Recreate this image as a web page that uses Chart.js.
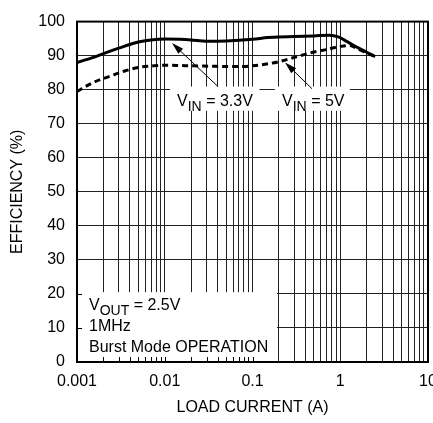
<!DOCTYPE html>
<html>
<head>
<meta charset="utf-8">
<script src="https://cdn.jsdelivr.net/npm/chart.js@4.4.1/dist/chart.umd.min.js"></script>
<style>
  html, body { margin: 0; padding: 0; background: #fff; }
</style>
</head>
<body>
<canvas id="eff" width="433" height="423"></canvas>
<script>
// efficiency vs load current
const current33 = [0.001, 0.0015, 0.002, 0.003, 0.005, 0.007, 0.01, 0.015, 0.02, 0.03, 0.05, 0.1, 0.15, 0.2, 0.3, 0.5, 0.75, 0.95, 1.2, 1.5, 2.0, 2.5];
const eff33 =     [88.0,  89.4,   90.6,  92.2,  94.0,  94.6,  94.9, 94.8,  94.6, 94.2, 94.3, 94.8, 95.3, 95.5, 95.6, 95.8, 96.0, 95.5, 94.1, 92.7, 91.0, 89.7];

const current5 = [0.001, 0.0015, 0.0024, 0.0035, 0.0052, 0.0075, 0.0096, 0.015, 0.02, 0.033, 0.05, 0.078, 0.1, 0.15, 0.205, 0.3, 0.455, 0.7, 0.92, 1.29, 1.6, 2.0, 2.5];
const eff5 =     [79.5,  82.0,   84.0,   85.5,   86.6,   87.0,   87.2,  87.1,  87.0, 86.9,  86.8, 86.8,  87.0, 87.6, 88.3,  89.5, 90.8,  91.8, 92.5, 93.0, 91.9, 90.8, 89.7];

const decades = [0.001, 0.01, 0.1, 1, 10];
const decadeLabels = ["0.001", "0.01", "0.1", "1", "10"];
const yTicks = [0, 10, 20, 30, 40, 50, 60, 70, 80, 90, 100];

const FONT = "'Liberation Sans', Arial, sans-serif";
const FS = 16;

// log grid: 1..9 in every decade
const gridValues = [];
decades.forEach((d, i) => {
  if (i === decades.length - 1) { gridValues.push(d); return; }
  for (let m = 1; m <= 9; m++) gridValues.push(+(d * m).toPrecision(3));
});

// white boxes that hide the grid behind the text (data coords)
const whiteBoxes = [
  { x0: 0.001, x1: 0.19, y0: 0, y1: 20.5, ticks: true },
  { x0: 0.0115, x1: 0.12, y0: 73.8, y1: 80.9 },
  { x0: 0.18, x1: 1.29, y0: 73.8, y1: 80.9 }
];

const arrows = [
  { from: [0.0405, 80.9], to: [0.0121, 93.7] },
  { from: [0.476, 80.3], to: [0.235, 88.0] }
];

const notes = [
  { x: 0.0138, y: 75.2, main: "V", sub: "IN", rest: " = 3.3V" },
  { x: 0.217, y: 75.2, main: "V", sub: "IN", rest: " = 5V" },
  { x: 0.00137, y: 15.4, main: "V", sub: "OUT", rest: " = 2.5V" },
  { x: 0.00137, y: 9.1, main: "1MHz" },
  { x: 0.00137, y: 2.85, main: "Burst Mode OPERATION" }
];

const annotations = {
  id: "annotations",
  beforeDatasetsDraw(chart) {
    const { ctx, chartArea: a, scales: { x, y } } = chart;
    ctx.save();
    ctx.fillStyle = "#fff";
    whiteBoxes.forEach(b => {
      const l = Math.max(x.getPixelForValue(b.x0), a.left + 1);
      const r = x.getPixelForValue(b.x1);
      const t = y.getPixelForValue(b.y1);
      const btm = Math.min(y.getPixelForValue(b.y0), a.bottom - 1);
      ctx.fillRect(l, t, r - l, btm - t);
      if (b.ticks) {
        ctx.strokeStyle = "#000";
        ctx.lineWidth = 1;
        ctx.beginPath();
        gridValues.forEach(v => {
          if (v <= b.x0 || v >= b.x1) return;
          const px = Math.round(x.getPixelForValue(v)) + 0.5;
          ctx.moveTo(px, a.bottom);
          ctx.lineTo(px, a.bottom - 5);
        });
        yTicks.forEach(v => {
          if (v <= b.y0 || v >= b.y1) return;
          const py = Math.round(y.getPixelForValue(v)) + 0.5;
          ctx.moveTo(a.left, py);
          ctx.lineTo(a.left + 5, py);
        });
        ctx.stroke();
      }
    });
    ctx.strokeStyle = "#000";
    ctx.lineWidth = 2;
    ctx.strokeRect(a.left, a.top, a.right - a.left, a.bottom - a.top);
    ctx.restore();
  },
  afterDatasetsDraw(chart) {
    const { ctx, scales: { x, y } } = chart;
    ctx.save();
    ctx.strokeStyle = "#000";
    ctx.fillStyle = "#000";
    ctx.lineWidth = 1;
    arrows.forEach(ar => {
      const x0 = x.getPixelForValue(ar.from[0]), y0 = y.getPixelForValue(ar.from[1]);
      const x1 = x.getPixelForValue(ar.to[0]), y1 = y.getPixelForValue(ar.to[1]);
      const ang = Math.atan2(y1 - y0, x1 - x0);
      ctx.beginPath();
      ctx.moveTo(x0, y0);
      ctx.lineTo(x1 - 8 * Math.cos(ang), y1 - 8 * Math.sin(ang));
      ctx.stroke();
      ctx.beginPath();
      ctx.moveTo(x1, y1);
      ctx.lineTo(x1 - 12 * Math.cos(ang) + 3.5 * Math.sin(ang), y1 - 12 * Math.sin(ang) - 3.5 * Math.cos(ang));
      ctx.lineTo(x1 - 12 * Math.cos(ang) - 3.5 * Math.sin(ang), y1 - 12 * Math.sin(ang) + 3.5 * Math.cos(ang));
      ctx.closePath();
      ctx.fill();
    });
    ctx.textBaseline = "alphabetic";
    ctx.textAlign = "left";
    notes.forEach(n => {
      let px = x.getPixelForValue(n.x);
      const py = y.getPixelForValue(n.y);
      ctx.font = FS + "px " + FONT;
      ctx.fillText(n.main, px, py);
      px += ctx.measureText(n.main).width;
      if (n.sub) {
        ctx.font = (FS - 2) + "px " + FONT;
        ctx.fillText(n.sub, px, py + 5);
        px += ctx.measureText(n.sub).width;
        ctx.font = FS + "px " + FONT;
        ctx.fillText(n.rest, px, py);
      }
    });
    ctx.restore();
  }
};

const font = { family: FONT, size: FS };

new Chart(document.getElementById("eff"), {
  type: "line",
  data: {
    datasets: [
      {
        label: "VIN = 3.3V",
        data: current33.map((c, i) => ({ x: c, y: eff33[i] })),
        borderColor: "#000",
        borderWidth: 3,
        pointRadius: 0,
        cubicInterpolationMode: "monotone",
        fill: false
      },
      {
        label: "VIN = 5V",
        data: current5.map((c, i) => ({ x: c, y: eff5[i] })),
        borderColor: "#000",
        borderWidth: 3,
        borderDash: [6, 4],
        pointRadius: 0,
        cubicInterpolationMode: "monotone",
        fill: false
      }
    ]
  },
  options: {
    responsive: false,
    animation: false,
    devicePixelRatio: 1,
    layout: { padding: { top: 11, right: 5, left: 0, bottom: 0 } },
    plugins: {
      legend: { display: false },
      tooltip: { enabled: false }
    },
    scales: {
      x: {
        type: "logarithmic",
        min: 0.001,
        max: 10,
        afterBuildTicks: s => { s.ticks = gridValues.map(v => ({ value: v })); },
        afterFit: s => { s.height = 61; s.paddingLeft = 0; s.paddingRight = 0; },
        grid: { color: "#222", lineWidth: 1, drawTicks: false },
        border: { color: "#000", width: 2 },
        ticks: {
          autoSkip: false,
          maxRotation: 0,
          padding: 10,
          color: "#000",
          font: font,
          callback: v => {
            const i = decades.findIndex(d => Math.abs(d - v) < d * 1e-6);
            return i >= 0 ? decadeLabels[i] : "";
          }
        },
        title: { display: true, text: "LOAD CURRENT (A)", color: "#000", font: font, padding: { top: 0, bottom: 6 } }
      },
      y: {
        min: 0,
        max: 100,
        afterBuildTicks: s => { s.ticks = yTicks.map(v => ({ value: v })); },
        afterFit: s => { s.width = 77; },
        grid: { color: "#222", lineWidth: 1, drawTicks: false },
        border: { color: "#000", width: 2 },
        ticks: { padding: 12, color: "#000", font: font },
        title: { display: true, text: "EFFICIENCY (%)", color: "#000", font: font, padding: { top: 8, bottom: 0 } }
      }
    }
  },
  plugins: [annotations]
});
</script>
</body>
</html>
